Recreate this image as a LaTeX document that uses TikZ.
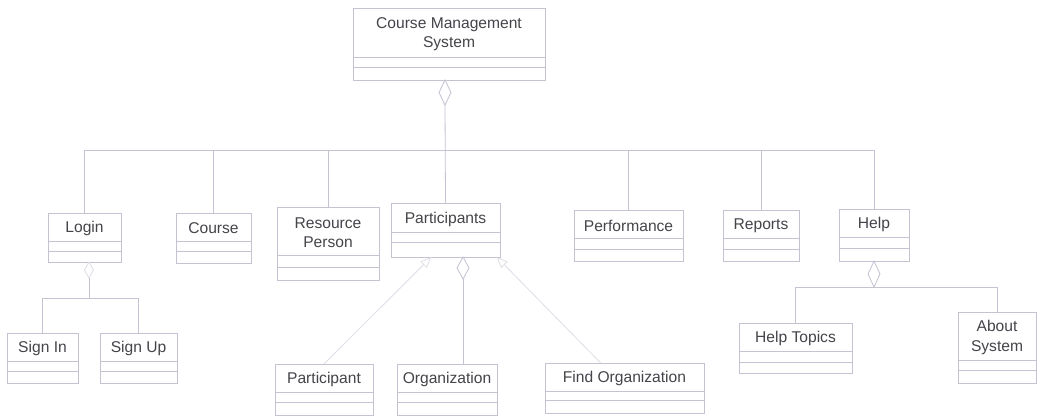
\documentclass[tikz,border=0pt]{standalone}
\usepackage{fontspec}
\setmainfont{Liberation Sans}
\usetikzlibrary{shapes.geometric,arrows.meta,calc}
\definecolor{lc}{RGB}{195,195,210}
\definecolor{tc}{RGB}{68,68,74}
\definecolor{fc}{RGB}{222,222,230}
\tikzset{
  cbox/.style={draw=lc, line width=0.8pt, inner sep=0pt, outer sep=0pt},
  ctext/.style={text=tc, font=\fontsize{15.6}{19.5}\selectfont, align=center, inner sep=0pt},
  cline/.style={draw=lc, line width=0.8pt},
  conn/.style={draw=lc, line width=0.8pt},
  agg/.style={diamond, draw=lc, line width=0.8pt, inner sep=0pt, outer sep=0pt,
    minimum width=12pt, minimum height=25pt, fill=white},
  gen/.style={draw=fc, line width=0.8pt, -{Triangle[open, length=11pt, width=9pt]}}
}
\newcommand\classbox[8]{%
  \node[cbox, minimum width={(#4-#2)*1pt}, minimum height={(#5-#3)*1pt}] (#1) at ({(#2+#4)/2},{(#3+#5)/2}) {};
  \node[ctext] (#1-t) at ({(#2+#4)/2},{(#3+#6)/2+1.5}) {#8};
  \draw[cline] (#2,#6) -- (#4,#6);
  \draw[cline] (#2,#7) -- (#4,#7);
}
\begin{document}
\begin{tikzpicture}[x=1pt,y=-1pt]
\path[use as bounding box, fill=white] (0,0) rectangle (1064,417);

\classbox{cms}{353}{8}{545}{80}{57}{67}{Course Management\\System}
\classbox{login}{48}{213}{121}{262}{241}{251}{Login}
\classbox{course}{176}{213}{251}{263}{241}{251}{Course}
\classbox{resp}{277}{207}{379}{280}{255}{267}{Resource\\Person}
\classbox{part}{391}{203}{500}{257}{232}{242}{Participants}
\classbox{perf}{574}{210}{683}{261}{238}{249}{Performance}
\classbox{reports}{723}{210}{799}{261}{238}{249}{Reports}
\classbox{help}{839}{209}{909}{261}{237}{248}{Help}
\classbox{signin}{7}{333}{78}{383}{361}{371}{Sign In}
\classbox{signup}{100}{333}{177}{383}{361}{371}{Sign Up}
\classbox{participant}{275}{364}{373}{415}{392}{402}{Participant}
\classbox{org}{397}{364}{497}{415}{392}{402}{Organization}
\classbox{findorg}{545}{363}{704}{413}{391}{400}{Find Organization}
\classbox{helptopics}{739}{323}{852}{373}{351}{362}{Help Topics}
\classbox{about}{958}{312}{1036}{383}{360}{370}{About\\System}

% main aggregation
\node[agg, anchor=north] (cmsd) at (445,80) {};
\coordinate (bus1) at (0,150);
\draw[conn] (cmsd.south) -- (part.north);
\draw[conn] (login.north) -- (login.north |- bus1) -- (help.north |- bus1) -- (help.north);
\foreach \b in {course,resp,perf,reports}{
  \draw[conn] (\b.north) -- (\b.north |- bus1);
}

% login
\node[agg, anchor=north, draw=fc, minimum width=9pt, minimum height=16pt] (logind) at (89,262) {};
\coordinate (bus2) at (0,298);
\draw[conn] (logind.south) -- (logind.south |- bus2);
\draw[conn] (signin.north) -- (signin.north |- bus2) -- (signup.north |- bus2) -- (signup.north);

% help
\node[agg, anchor=north, minimum height=26pt] (helpd) at (help.south) {};
\coordinate (bus3) at (0,287);
\draw[conn] (helpd.south) -- (helpd.south |- bus3);
\draw[conn] (helptopics.north) -- (helptopics.north |- bus3) -- (about.north |- bus3) -- (about.north);

% participants
\node[agg, anchor=north, minimum height=22pt] (partd) at (463,257) {};
\draw[conn] (partd.south) -- (partd.south |- org.north);
\draw[gen] (participant.north) -- ($(part.south west)!0.37!(part.south east)$);
\draw[gen] ($(findorg.north west)!0.35!(findorg.north east)$) -- ($(part.south west)!0.97!(part.south east)$);
\end{tikzpicture}
\end{document}
